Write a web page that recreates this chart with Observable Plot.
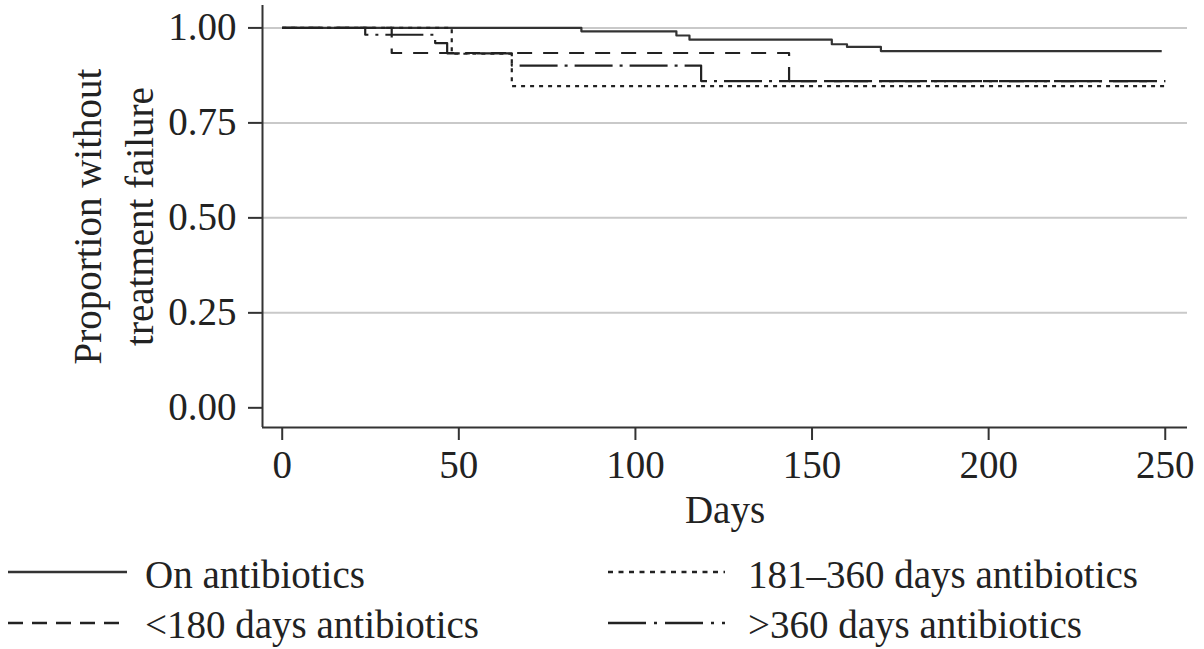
<!DOCTYPE html>
<html>
<head>
<meta charset="utf-8">
<script src="https://cdn.jsdelivr.net/npm/d3@7"></script>
<script src="https://cdn.jsdelivr.net/npm/@observablehq/plot@0.6"></script>
<style>
  html, body { margin: 0; padding: 0; background: #fff; }
  #chart svg { display: block; }
  #legend { position: relative; width: 1204px; height: 104px; font-family: "Liberation Serif", "Times New Roman", serif; font-size: 39px; color: #222; }
  #legend .txt { position: absolute; line-height: 39px; white-space: nowrap; }
  #legend svg { position: absolute; overflow: visible; }
</style>
</head>
<body>
<div id="chart"></div>
<div id="legend"></div>
<script>
// ---- data ----
const seriesNames = ["On antibiotics", "<180 days antibiotics", "181–360 days antibiotics", ">360 days antibiotics"];
const seriesDash = [null, "15,11", "4,5", "38,7,3,7"];
const legendDash = [null, "15,9", "5,5.5", "38,8,3,8"];

const daysOn = [0, 84.7, 111.6, 115.3, 155.6, 159.9, 169.5, 249];
const survOn = [1.000, 0.991, 0.980, 0.969, 0.957, 0.950, 0.939, 0.939];

const daysLt180 = [0, 31, 143.5, 250];
const survLt180 = [1.000, 0.934, 0.860, 0.860];

const days181to360 = [0, 48, 65, 250];
const surv181to360 = [1.000, 0.932, 0.847, 0.847];

const daysGt360 = [0, 23.5, 43.3, 46.7, 65, 118.6, 250];
const survGt360 = [1.000, 0.982, 0.960, 0.933, 0.901, 0.860, 0.860];

const xTicks = [0, 50, 100, 150, 200, 250];
const yTicks = [0, 0.25, 0.5, 0.75, 1];
const yGrid = [0.25, 0.5, 0.75, 1];
const xDomain = [-5.58, 256.3];
const yDomain = [-0.0518, 1.059];

const xLabel = "Days";
const yLabel = "Proportion without\ntreatment failure";

// ---- build tables ----
const seriesDays = [daysOn, daysLt180, days181to360, daysGt360];
const seriesSurv = [survOn, survLt180, surv181to360, survGt360];
const tables = seriesDays.map((ds, i) => ds.map((d, j) => ({day: d, surv: seriesSurv[i][j], group: seriesNames[i]})));

const font = "'Liberation Serif', 'Times New Roman', serif";
const ink = "#222";

const lineMarks = tables.map((t, i) => Plot.line(t, {
  x: "day", y: "surv", curve: "step-after",
  stroke: i === 0 ? "#333" : ink, strokeWidth: 2.2,
  strokeDasharray: seriesDash[i] || undefined,
  strokeLinecap: "butt"
}));

const chart = Plot.plot({
  width: 1204,
  height: 545,
  marginLeft: 262,
  marginRight: 17,
  marginTop: 5,
  marginBottom: 118,
  x: {domain: xDomain},
  y: {domain: yDomain},
  style: {fontFamily: font, fontSize: "39px", color: ink, background: "white"},
  marks: [
    Plot.ruleY(yGrid, {stroke: "#c9c9c9", strokeWidth: 2}),
    ...lineMarks,
    Plot.ruleX([xDomain[0]], {stroke: "#333", strokeWidth: 2}),
    Plot.ruleY([yDomain[0]], {stroke: "#333", strokeWidth: 2}),
    Plot.axisY({ticks: yTicks, tickFormat: d => d.toFixed(2), tickSize: 14, tickPadding: 12, fontSize: 39, label: null, strokeWidth: 2, stroke: "#333", fill: ink}),
    Plot.axisX({ticks: xTicks, tickFormat: d => String(d), tickSize: 13, tickPadding: 10, fontSize: 39, label: null, strokeWidth: 2, stroke: "#333", fill: ink}),
    Plot.text([xLabel], {text: d => d, frameAnchor: "bottom", dy: 83, lineAnchor: "middle", fontSize: 39, fill: ink}),
    Plot.text([yLabel], {text: d => d, frameAnchor: "left", dx: -152, rotate: -90, textAnchor: "middle", lineAnchor: "middle", lineHeight: 1.33, fontSize: 39, fill: ink})
  ]
});
document.getElementById("chart").appendChild(chart);

// ---- legend (below the svg) ----
const legend = document.getElementById("legend");
const legendCols = [
  {lineX: 8, lineW: 119, textX: 145},
  {lineX: 608, lineW: 117, textX: 748}
];
const legendRows = [{lineY: 27, textTop: 9.5}, {lineY: 78, textTop: 59.5}];
const legendOrder = [[0, 0, 0], [1, 0, 1], [2, 1, 0], [3, 1, 1]]; // series, col, row
const ns = "http://www.w3.org/2000/svg";
legendOrder.forEach(([si, ci, ri]) => {
  const c = legendCols[ci], r = legendRows[ri];
  const s = document.createElementNS(ns, "svg");
  s.setAttribute("width", c.lineW);
  s.setAttribute("height", 6);
  s.style.left = c.lineX + "px";
  s.style.top = (r.lineY - 3) + "px";
  const l = document.createElementNS(ns, "line");
  l.setAttribute("x1", 0); l.setAttribute("x2", c.lineW);
  l.setAttribute("y1", 3); l.setAttribute("y2", 3);
  l.setAttribute("stroke", si === 0 ? "#333" : ink);
  l.setAttribute("stroke-width", 2.5);
  if (legendDash[si]) l.setAttribute("stroke-dasharray", legendDash[si]);
  s.appendChild(l);
  legend.appendChild(s);
  const t = document.createElement("div");
  t.className = "txt";
  t.textContent = seriesNames[si];
  t.style.left = c.textX + "px";
  t.style.top = r.textTop + "px";
  legend.appendChild(t);
});
</script>
</body>
</html>
